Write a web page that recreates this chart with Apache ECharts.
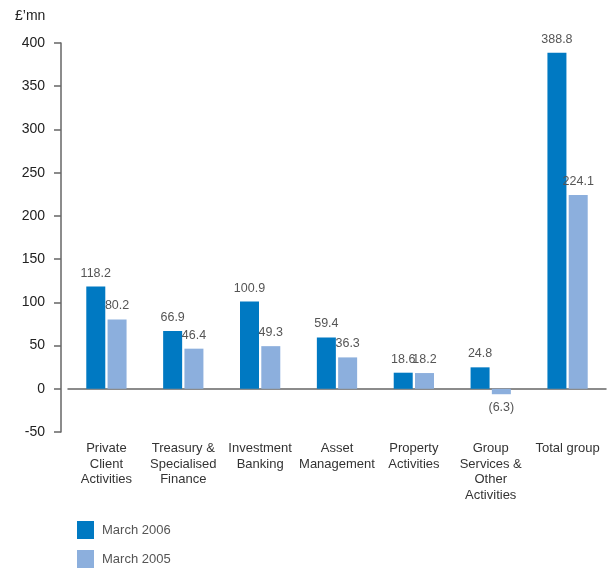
<!DOCTYPE html>
<html>
<head>
<meta charset="utf-8">
<script src="https://cdn.jsdelivr.net/npm/echarts@6/dist/echarts.min.js"></script>
<style>
  html, body { margin: 0; padding: 0; background: #fff; }
  #chart { width: 608px; height: 570px; }
</style>
</head>
<body>
<div id="chart"></div>
<script>
// Operating profit by division, £ millions
const categories = [
  'Private\nClient\nActivities',
  'Treasury &\nSpecialised\nFinance',
  'Investment\nBanking',
  'Asset\nManagement',
  'Property\nActivities',
  'Group\nServices &\nOther\nActivities',
  'Total group'
];
const march2006 = [118.2, 66.9, 100.9, 59.4, 18.6, 24.8, 388.8];
const march2005 = [80.2, 46.4, 49.3, 36.3, 18.2, -6.3, 224.1];
const seriesNames = ['March 2006', 'March 2005'];
const yTicks = { min: -50, max: 400, step: 50 };

const DARK = '#0079c2';
const LIGHT = '#8cafdd';
const AXIS = '#666';
const FONT = '"Liberation Sans", Arial, sans-serif';

// Negative figures are shown in brackets, below the bar
function fmt(v) {
  return v < 0 ? '(' + Math.abs(v).toFixed(1) + ')' : v.toFixed(1);
}
function toItems(arr) {
  return arr.map(v => v < 0
    ? { value: v, label: { position: 'bottom' } }
    : { value: v });
}

const valueLabel = {
  show: true,
  position: 'top',
  distance: 7,
  fontFamily: FONT,
  fontSize: 12.5,
  color: '#555',
  formatter: p => fmt(p.value)
};

const chart = echarts.init(document.getElementById('chart'), null, { renderer: 'canvas' });
chart.setOption({
  animation: false,
  textStyle: { fontFamily: FONT },
  graphic: [{
    type: 'text',
    left: 15,
    top: 9,
    style: { text: '£’mn', fontSize: 14, fill: '#222', fontFamily: FONT }
  }],
  legend: {
    orient: 'vertical',
    left: 77,
    top: 521,
    padding: 0,
    itemWidth: 17,
    itemHeight: 18,
    itemGap: 11,
    icon: 'rect',
    textStyle: { fontSize: 13, color: '#555', padding: [0, 0, 0, 3] },
    data: seriesNames
  },
  grid: { left: 68, right: 2, top: 43, height: 389, containLabel: false },
  xAxis: {
    type: 'category',
    data: categories,
    axisLine: { onZero: true, lineStyle: { color: AXIS, width: 1.5 } },
    axisTick: {
      length: 9,
      lineStyle: { color: AXIS, width: 1.5 },
      interval: (i) => i !== 0
    },
    axisLabel: {
      margin: 9,
      fontSize: 13,
      lineHeight: 15.5,
      color: '#333',
      interval: 0
    }
  },
  yAxis: {
    type: 'value',
    min: yTicks.min,
    max: yTicks.max,
    interval: yTicks.step,
    offset: 7,
    axisLine: { show: true, lineStyle: { color: AXIS, width: 1.5 } },
    axisTick: { show: true, length: 7, lineStyle: { color: AXIS, width: 1.5 } },
    splitLine: { show: false },
    axisLabel: { margin: 16, fontSize: 14, color: '#222' }
  },
  series: [
    {
      name: seriesNames[0],
      type: 'bar',
      data: toItems(march2006),
      barWidth: 19,
      barGap: '12%',
      itemStyle: { color: DARK },
      label: valueLabel
    },
    {
      name: seriesNames[1],
      type: 'bar',
      data: toItems(march2005),
      barWidth: 19,
      barGap: '12%',
      itemStyle: { color: LIGHT },
      label: valueLabel
    }
  ]
});
</script>
</body>
</html>
